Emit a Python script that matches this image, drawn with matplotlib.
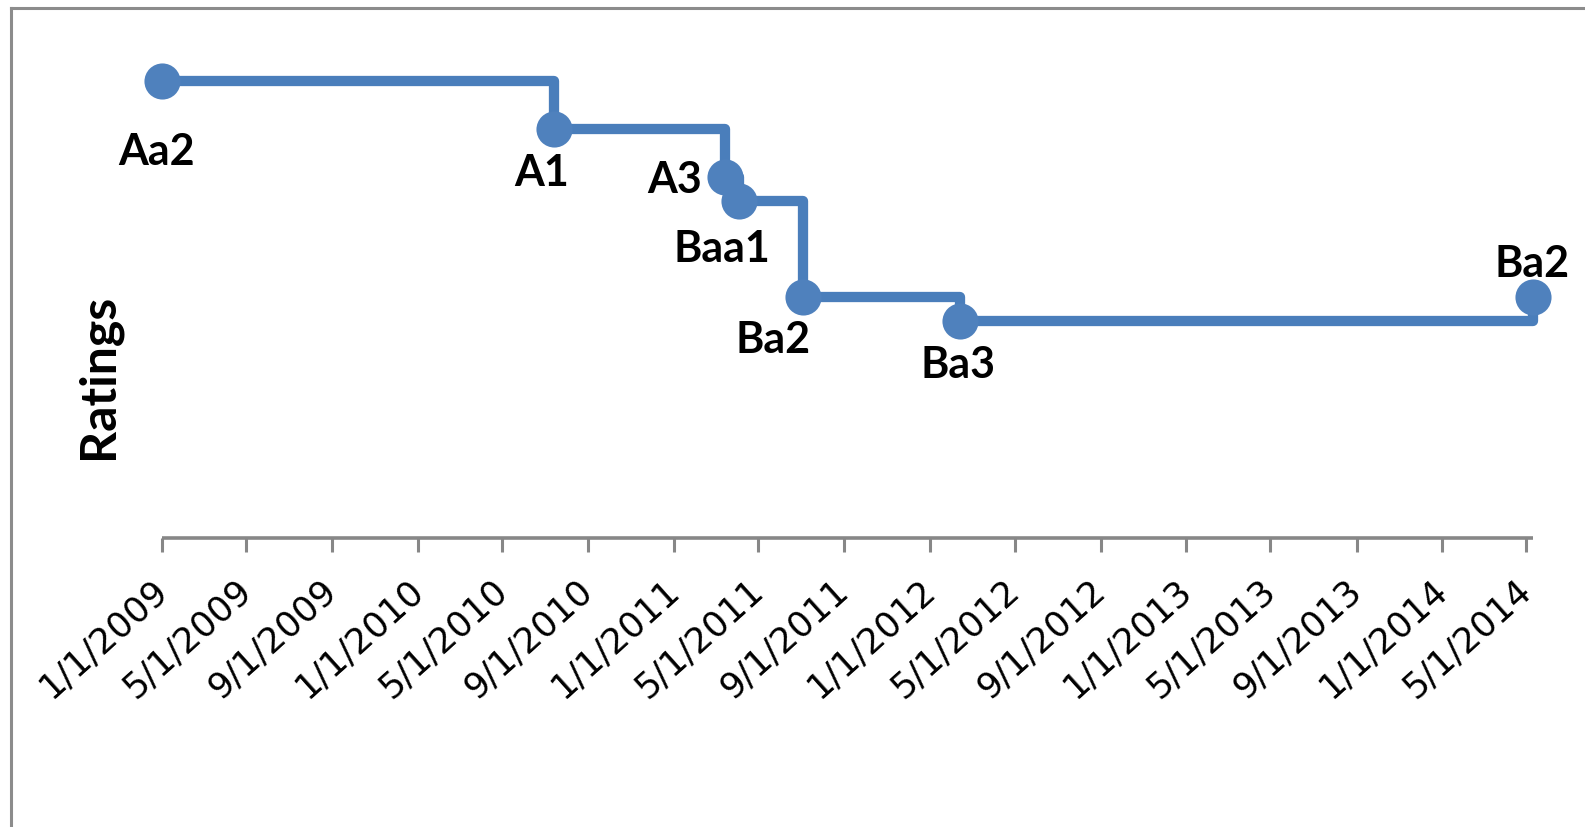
import matplotlib
matplotlib.use("Agg")
import matplotlib.pyplot as plt
from matplotlib.lines import Line2D
import pandas as pd

# Moody's rating history
rating_dates = ["2009-01-01", "2010-07-14", "2011-03-15", "2011-04-04",
                "2011-07-04", "2012-02-13", "2014-05-10"]
rating_labels = ["Aa2", "A1", "A3", "Baa1", "Ba2", "Ba3", "Ba2"]

# Moody's long-term scale, Aaa = 1 ... C = 21
moodys_scale = ["Aaa", "Aa1", "Aa2", "Aa3", "A1", "A2", "A3",
                "Baa1", "Baa2", "Baa3", "Ba1", "Ba2", "Ba3",
                "B1", "B2", "B3", "Caa1", "Caa2", "Caa3", "Ca", "C"]

tick_labels = ["1/1/2009", "5/1/2009", "9/1/2009", "1/1/2010", "5/1/2010",
               "9/1/2010", "1/1/2011", "5/1/2011", "9/1/2011", "1/1/2012",
               "5/1/2012", "9/1/2012", "1/1/2013", "5/1/2013", "9/1/2013",
               "1/1/2014", "5/1/2014"]

dates = pd.to_datetime(rating_dates)
notches = [moodys_scale.index(r) + 1 for r in rating_labels]
ticks = pd.to_datetime(tick_labels, format="%m/%d/%Y")

# label placement relative to each marker (pixels; x right, y up)
label_offsets = [(-5, -84), (-12, -57), (-50, -16), (-17, -61),
                 (-30, -56), (-2, -57), (-1, 20)]

W, H = 1585, 827
fig = plt.figure(figsize=(W / 100, H / 100), dpi=100)
fig.patch.set_facecolor("white")

ax = fig.add_axes([162 / W, 1 - 537.7 / H, (1532.7 - 162) / W, (537.7 - 8.6) / H])
ax.set_facecolor("none")

blue_line = "#4A7EBB"
blue_mark = "#4F81BD"
grey = "#878787"

ax.plot(dates, notches, drawstyle="steps-post", color=blue_line, lw=7.4,
        solid_joinstyle="round", solid_capstyle="round", zorder=2, clip_on=False)
ax.plot(dates, notches, ls="none", marker="o", ms=26, mfc=blue_mark, mec=blue_mark,
        mew=0, zorder=3, clip_on=False)

label_font = dict(family=["Lato", "DejaVu Sans"], weight="bold", size=31)
for d, n, lab, (dx, dy) in zip(dates, notches, rating_labels, label_offsets):
    ax.annotate(lab, xy=(d, n), xytext=(dx, dy), textcoords="offset pixels",
                ha="center", va="baseline", color="black", zorder=4,
                annotation_clip=False, **label_font)

ax.set_ylim(22, 0)
ax.set_xlim(dates[0], dates[-1])
ax.set_yticks([])

for side in ("left", "top", "right"):
    ax.spines[side].set_visible(False)
ax.spines["bottom"].set_color(grey)
ax.spines["bottom"].set_linewidth(2.6)
ax.spines["bottom"].set_capstyle("butt")

ax.set_xticks(ticks)
ax.set_xticklabels(tick_labels)
ax.tick_params(axis="x", direction="out", length=9.8, width=2.2, color=grey,
               pad=25, labelsize=25.5, labelcolor="black")
for t in ax.get_xticklabels():
    t.set_rotation(42)
    t.set_ha("right")
    t.set_va("center")
    t.set_rotation_mode("anchor")
    t.set_fontfamily("DejaVu Sans")

fig.text(98 / W, 1 - 376 / H, "Ratings", rotation=90, ha="center", va="center",
         color="black", family=["Lato", "DejaVu Sans"], weight="bold", size=36)

# outer chart frame (top and left edges)
fig.add_artist(Line2D([10.5 / W, 1.0], [1 - 8 / H, 1 - 8 / H],
                      transform=fig.transFigure, color="#8C8C8C", lw=2.2))
fig.add_artist(Line2D([10.5 / W, 10.5 / W], [0.0, 1 - 8 / H],
                      transform=fig.transFigure, color="#8C8C8C", lw=2.2))

fig.savefig("out.png", dpi=100, facecolor="white")
